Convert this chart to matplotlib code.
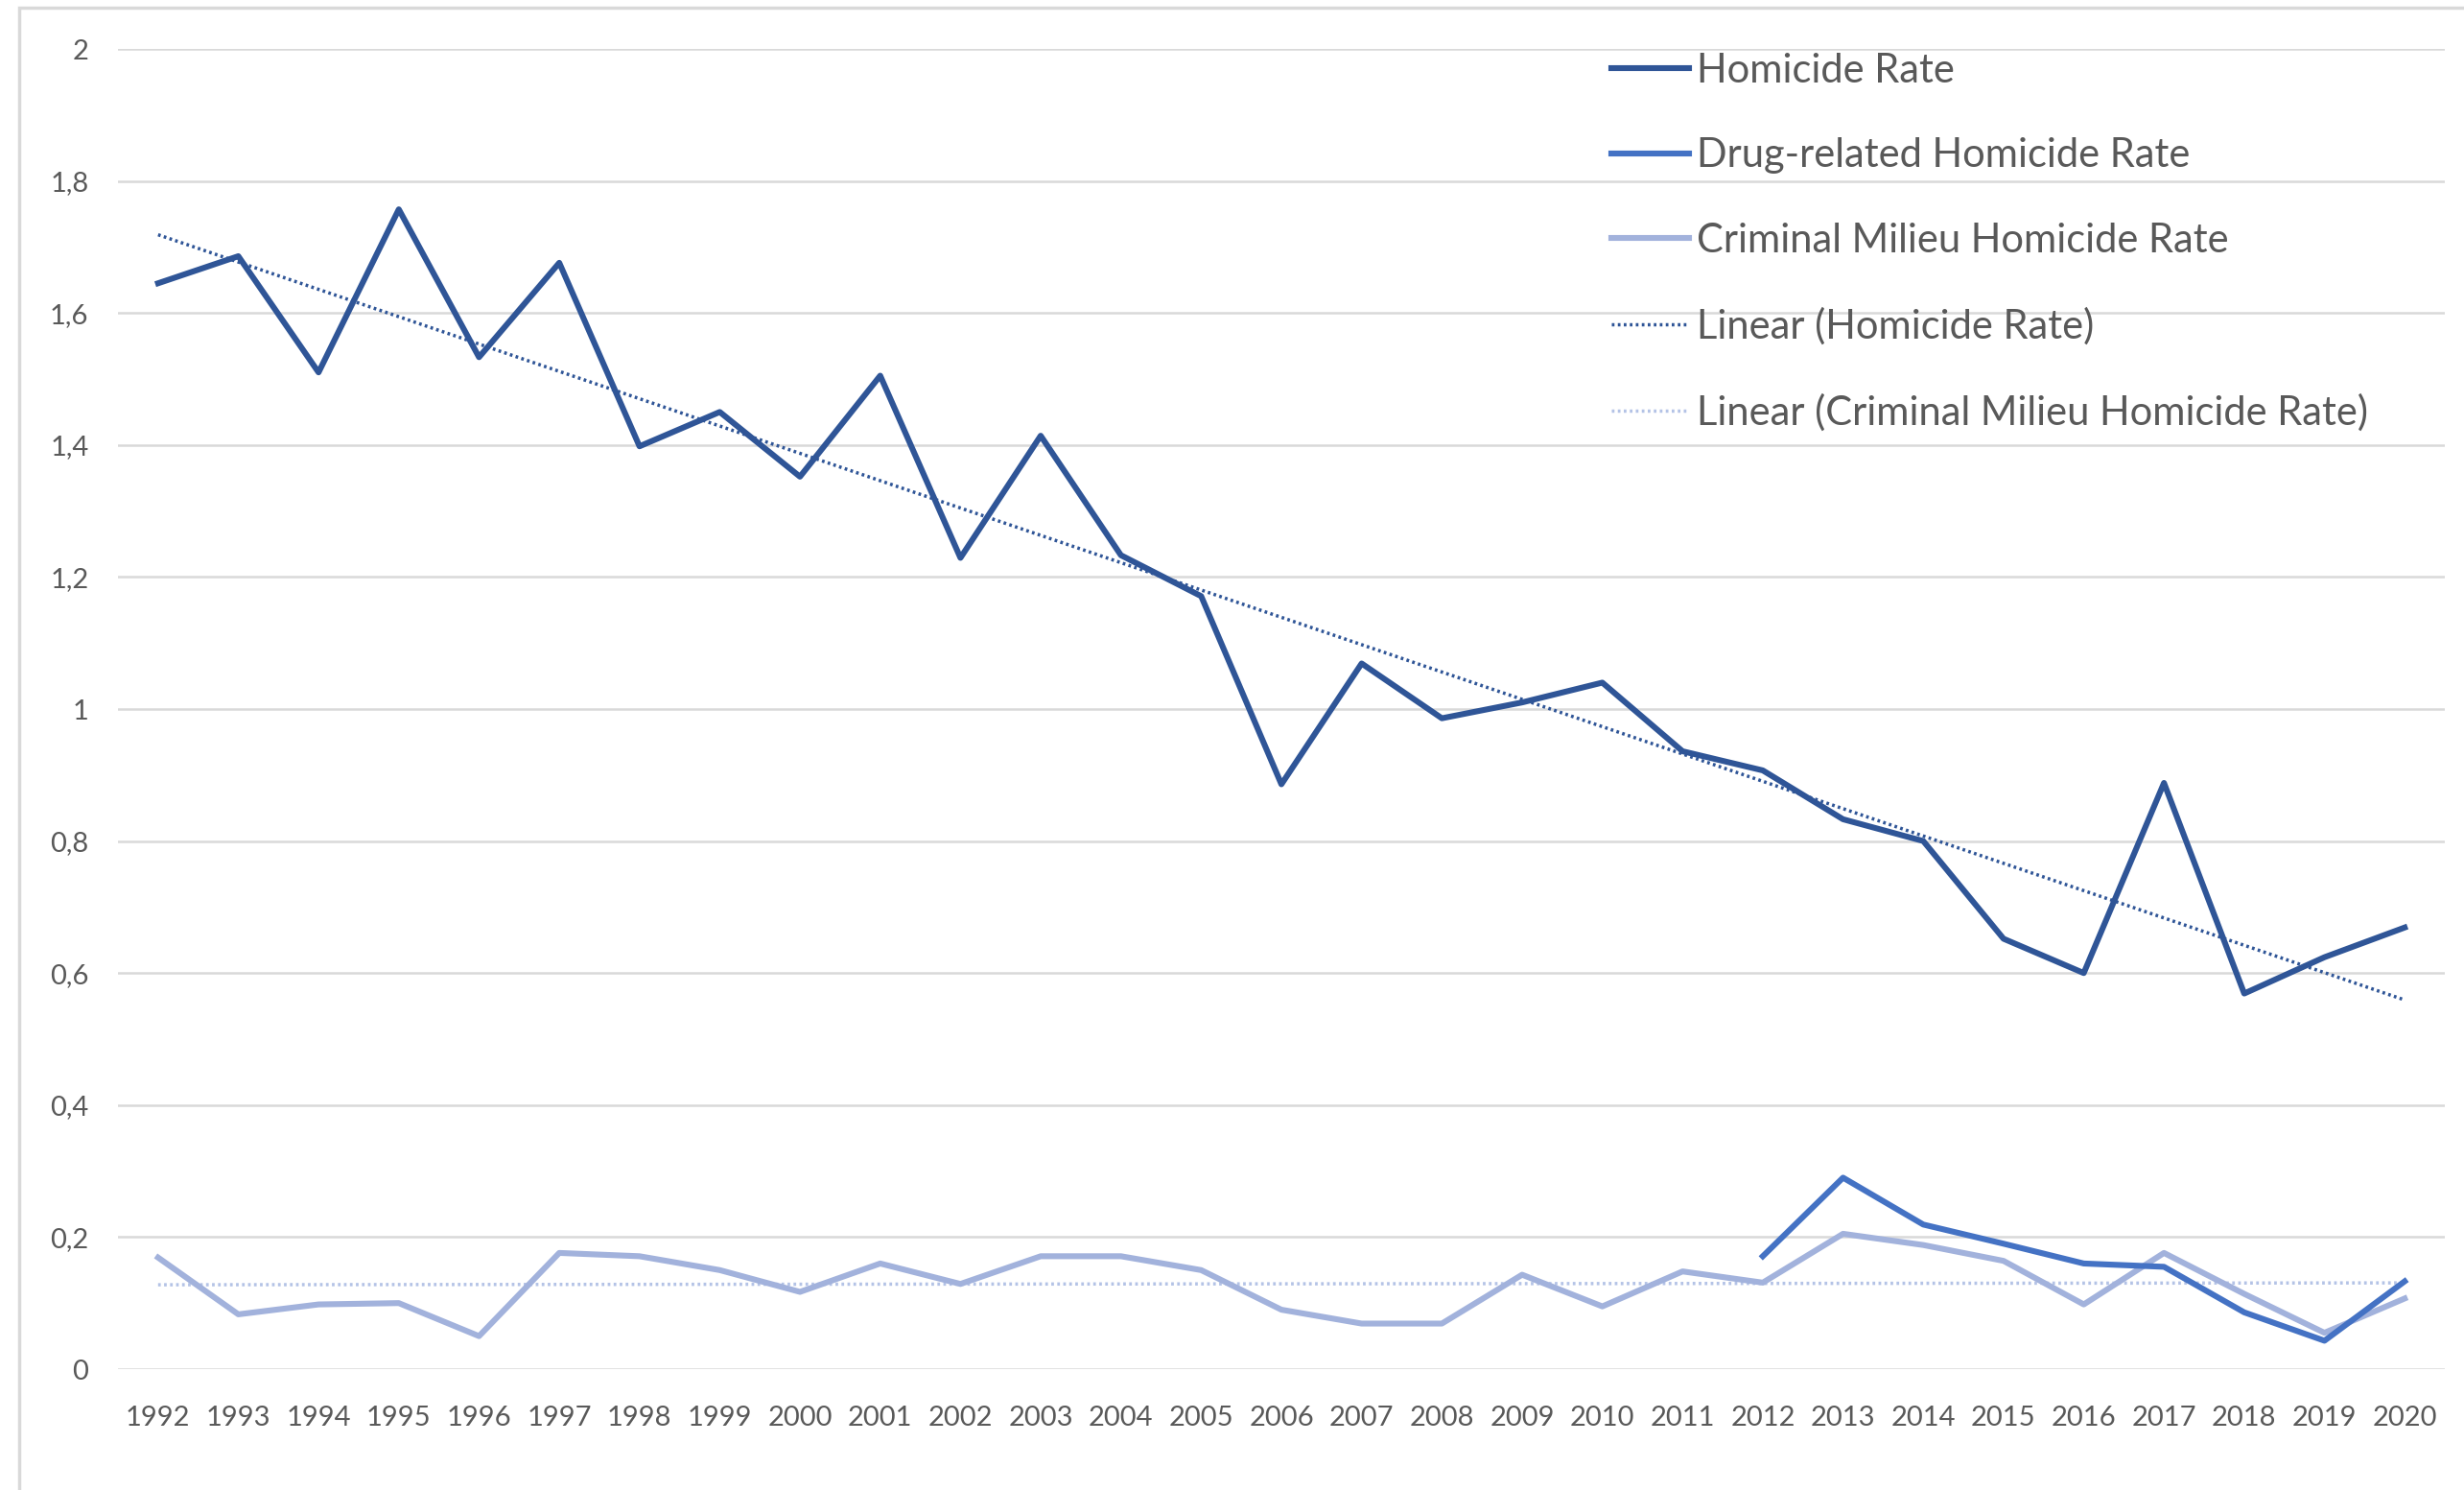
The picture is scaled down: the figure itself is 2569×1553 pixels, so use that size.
import numpy as np
import matplotlib.pyplot as plt
from matplotlib.patches import Rectangle

years = list(range(1992, 2021))
homicide = [1.645, 1.686, 1.51, 1.757, 1.533, 1.676, 1.398, 1.45, 1.352, 1.505,
            1.229, 1.414, 1.233, 1.171, 0.886, 1.069, 0.986, 1.01, 1.04, 0.936,
            0.907, 0.833, 0.8, 0.652, 0.6, 0.888, 0.569, 0.624, 0.669]
milieu = [0.169, 0.083, 0.098, 0.1, 0.05, 0.176, 0.171, 0.15, 0.117, 0.16,
          0.129, 0.171, 0.171, 0.15, 0.09, 0.069, 0.069, 0.143, 0.095, 0.148,
          0.131, 0.205, 0.188, 0.164, 0.098, 0.176, 0.114, 0.055, 0.107]
drug_years = list(range(2012, 2021))
drug = [0.171, 0.29, 0.219, 0.19, 0.16, 0.155, 0.086, 0.043, 0.133]
yticks = [0, 0.2, 0.4, 0.6, 0.8, 1, 1.2, 1.4, 1.6, 1.8, 2]

c_hom = '#2F5597'
c_drug = '#4472C4'
c_mil = '#A2B2DC'
c_mil_trend = '#B4C3E6'
plt.rcParams['font.family'] = ['Lato', 'DejaVu Sans']

fig = plt.figure(figsize=(25.69, 15.53), dpi=100)
ax = fig.add_axes([123 / 2569, 1 - 1427 / 1553, (2549 - 123) / 2569, (1427 - 51) / 1553])

# trend lines (linear fits)
x = np.array(years)
p1 = np.polyfit(x, homicide, 1)
p2 = np.polyfit(x, milieu, 1)

ax.plot(years, homicide, color=c_hom, lw=4.4, label='Homicide Rate', zorder=4)
ax.plot(drug_years, drug, color=c_drug, lw=4.4, label='Drug-related Homicide Rate', zorder=4)
ax.plot(years, milieu, color=c_mil, lw=4.4, label='Criminal Milieu Homicide Rate', zorder=3)
ax.plot(years, np.polyval(p1, x), color=c_hom, lw=2.5, ls=(0, (0.8, 1.0)),
        label='Linear (Homicide Rate)', zorder=5)
ax.plot(years, np.polyval(p2, x), color=c_mil_trend, lw=2.5, ls=(0, (0.8, 1.0)),
        label='Linear (Criminal Milieu Homicide Rate)', zorder=2)

ax.set_xlim(1991.5, 2020.5)
ax.set_ylim(0, 2)
ax.set_xticks(years)
ax.set_xticklabels([str(y) for y in years])
ax.set_yticks(yticks)
ax.set_yticklabels([f'{v:g}'.replace('.', ',') for v in yticks])
ax.tick_params(length=0, labelsize=21, labelcolor='#595959')
ax.tick_params(axis='y', pad=22)
ax.tick_params(axis='x', pad=27)
ax.grid(axis='y', color='#D9D9D9', lw=1.8)
ax.set_axisbelow(True)
for s in ax.spines.values():
    s.set_visible(False)

leg = ax.legend(loc='upper left', bbox_to_anchor=(1659 / 2569, 1 - 34 / 1553),
                bbox_transform=fig.transFigure, frameon=False, fontsize=30,
                handlelength=1.95, handletextpad=0.2, labelspacing=1.21, borderpad=0)
for t in leg.get_texts():
    t.set_color('#595959')

fig.patches.append(Rectangle((20 / 2569, -0.1), 1.2, 1.1 - 8 / 1553, transform=fig.transFigure,
                             fill=False, edgecolor='#D9D9D9', lw=2.5))

fig.savefig('out.png', dpi=100)
